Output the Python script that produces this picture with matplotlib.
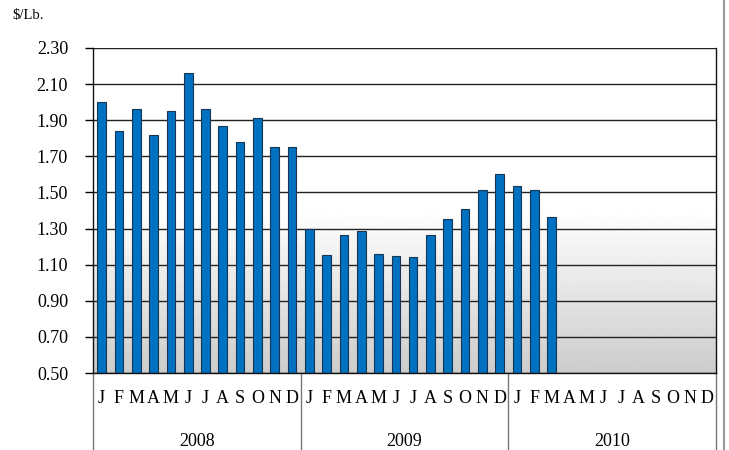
import numpy as np
import matplotlib
matplotlib.use("Agg")
import matplotlib.pyplot as plt
import matplotlib.transforms as mtransforms

# monthly prices, $/Lb., Jan 2008 .. Mar 2010
prices_2008 = [2.00, 1.84, 1.96, 1.82, 1.95, 2.16, 1.96, 1.87, 1.78, 1.91, 1.75, 1.75]
prices_2009 = [1.30, 1.155, 1.265, 1.285, 1.16, 1.15, 1.14, 1.265, 1.355, 1.41, 1.515, 1.60]
prices_2010 = [1.535, 1.515, 1.365]
months = ["J", "F", "M", "A", "M", "J", "J", "A", "S", "O", "N", "D"]
years = ["2008", "2009", "2010"]
y_ticks = [0.50, 0.70, 0.90, 1.10, 1.30, 1.50, 1.70, 1.90, 2.10, 2.30]

plt.rcParams["font.family"] = ["Liberation Serif", "DejaVu Serif"]

values = prices_2008 + prices_2009 + prices_2010
n_slots = len(months) * len(years)

fig = plt.figure(figsize=(7.29, 4.5), dpi=100)
ax = fig.add_axes([93 / 729, 1 - 373 / 450, (716 - 93) / 729, (373 - 48) / 450])

# background: white at the top, fading to grey toward the bottom
ys = np.linspace(2.3, 0.5, 400)
shade = np.where(ys > 1.40, 1.0, 0.80 + 0.20 * (ys - 0.5) / (1.40 - 0.5))
grad = np.repeat(shade[:, None], 2, axis=1)
ax.imshow(grad, cmap="gray", vmin=0, vmax=1, aspect="auto",
          extent=[-0.5, n_slots - 0.5, 0.5, 2.3], zorder=0, interpolation="bilinear")

ax.bar(np.arange(len(values)), np.array(values) - 0.5, bottom=0.5, width=0.5,
       color="#0070C0", edgecolor="#1a3550", linewidth=0.8, zorder=3)

ax.set_xlim(-0.5, n_slots - 0.5)
ax.set_ylim(0.5, 2.3)
ax.set_yticks(y_ticks)
ax.set_yticklabels([f"{v:.2f}" for v in y_ticks], fontsize=13)
for v in y_ticks:
    ax.axhline(v, color="#222222", linewidth=1.0, zorder=2)

ax.set_xticks(np.arange(n_slots))
ax.set_xticklabels(months * len(years), fontsize=13)
ax.tick_params(axis="x", length=0, pad=12)
ax.tick_params(axis="y", length=6, width=1, pad=12)

ax.spines["top"].set_visible(False)
for side in ["left", "bottom", "right"]:
    ax.spines[side].set_color("#111111")
    ax.spines[side].set_linewidth(1.0)
    ax.spines[side].set_zorder(4)

# year groups below the month letters
trans = mtransforms.blended_transform_factory(ax.transData, ax.transAxes)
y_low = (373 - 450) / 325
for i in range(len(years) + 1):
    xs = i * 12 - 0.5
    ax.plot([xs, xs], [0, y_low], transform=trans, color="#777777",
            linewidth=1.0, clip_on=False)
for i, yr in enumerate(years):
    ax.text(i * 12 + 5.5, -0.21, yr, transform=trans, ha="center", va="center", fontsize=13)

fig.text(12 / 729, 1 - 16 / 450, "$/Lb.", fontsize=10.5, ha="left", va="center")

# outer frame line on the right
fig.add_artist(plt.Line2D([724 / 729, 724 / 729], [0, 1], color="#999999", linewidth=1.5))

fig.savefig("out.png", dpi=100)
